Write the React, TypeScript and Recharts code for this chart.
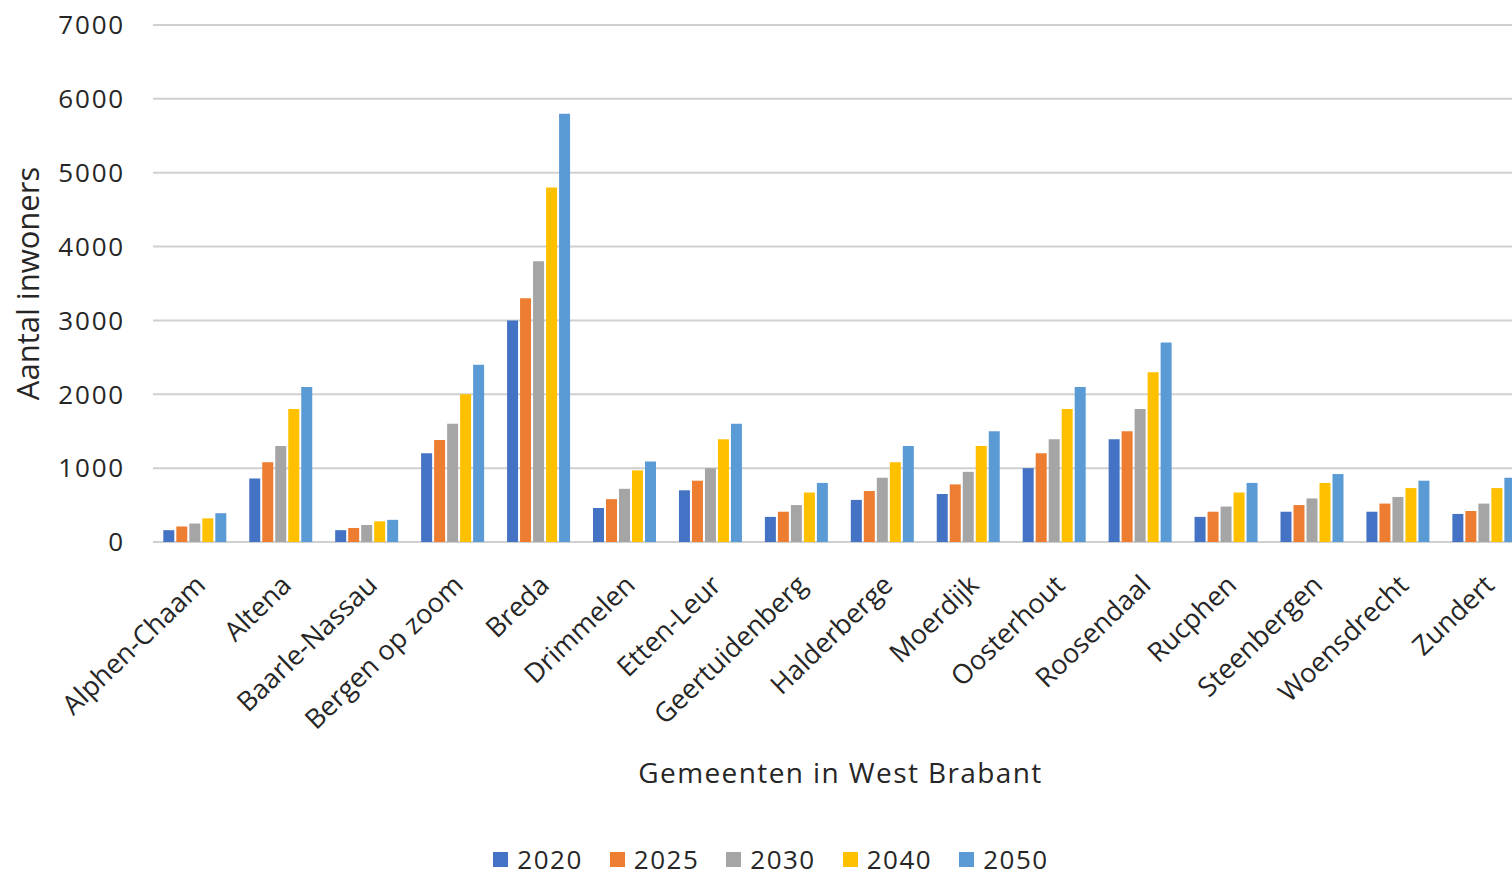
import { BarChart, Bar, XAxis, YAxis, CartesianGrid, Legend } from 'recharts';

const gemeenten = [
  'Alphen-Chaam', 'Altena', 'Baarle-Nassau', 'Bergen op zoom', 'Breda', 'Drimmelen',
  'Etten-Leur', 'Geertuidenberg', 'Halderberge', 'Moerdijk', 'Oosterhout', 'Roosendaal',
  'Rucphen', 'Steenbergen', 'Woensdrecht', 'Zundert',
];

const v2020 = [160, 860, 160, 1200, 3000, 460, 700, 340, 570, 650, 1000, 1390, 340, 410, 410, 380];
const v2025 = [210, 1080, 190, 1380, 3300, 580, 830, 410, 690, 780, 1200, 1500, 410, 500, 520, 420];
const v2030 = [250, 1300, 230, 1600, 3800, 720, 1000, 500, 870, 950, 1390, 1800, 480, 590, 610, 520];
const v2040 = [320, 1800, 280, 2000, 4800, 970, 1390, 670, 1080, 1300, 1800, 2300, 670, 800, 730, 730];
const v2050 = [390, 2100, 300, 2400, 5800, 1090, 1600, 800, 1300, 1500, 2100, 2700, 800, 920, 830, 870];

const yTicks = [0, 1000, 2000, 3000, 4000, 5000, 6000, 7000];

const series = [
  { key: '2020', color: '#4472C4' },
  { key: '2025', color: '#ED7D31' },
  { key: '2030', color: '#A5A5A5' },
  { key: '2040', color: '#FFC000' },
  { key: '2050', color: '#5B9BD5' },
];

const data = gemeenten.map((name, i) => ({
  name,
  '2020': v2020[i],
  '2025': v2025[i],
  '2030': v2030[i],
  '2040': v2040[i],
  '2050': v2050[i],
}));

const FONT = '"Open Sans", sans-serif';

function XTick({ x, y, payload }: any) {
  return (
    <g transform={`translate(${x + 11},${y + 43})`}>
      <text textAnchor="end" transform="rotate(-44)" fontSize={27} fontFamily={FONT} fill="#262626">
        {payload.value}
      </text>
    </g>
  );
}

function LegendContent({ payload }: any) {
  return (
    <div style={{ height: 42, paddingTop: 8, paddingLeft: 14, boxSizing: 'border-box', display: 'flex', justifyContent: 'center', gap: 27, fontFamily: FONT, fontSize: 26, letterSpacing: 1.5, color: '#262626', lineHeight: '28px' }}>
      {(payload || []).map((entry: any) => (
        <span key={entry.value} style={{ display: 'flex', alignItems: 'center', height: 28 }}>
          <span style={{ width: 15, height: 15, background: entry.color, marginRight: 9, display: 'inline-block' }} />
          {entry.value}
        </span>
      ))}
    </div>
  );
}

export default function App() {
  return (
    <div style={{ position: 'absolute', left: 0, top: 0, width: 1512, height: 879, overflow: 'hidden', background: '#fff' }}>
      <BarChart
        width={1540}
        height={879}
        data={data}
        margin={{ top: 25, right: 12, bottom: 0, left: 0 }}
        barCategoryGap="12%"
        barGap={2}
      >
        <CartesianGrid vertical={false} stroke="#d0d0d0" strokeWidth={2} />
        <XAxis
          dataKey="name"
          height={295}
          axisLine={false}
          tickLine={false}
          tickSize={0}
          interval={0}
          tick={<XTick />}
          label={{ value: 'Gemeenten in West Brabant', position: 'insideBottom', offset: 54, fontSize: 28, fontFamily: FONT, fill: '#262626', letterSpacing: 1.4 }}
        />
        <YAxis
          width={153}
          domain={[0, 7000]}
          ticks={yTicks}
          axisLine={false}
          tickLine={false}
          tickSize={0}
          tickMargin={28}
          tick={{ fontSize: 26, fontFamily: FONT, fill: '#262626', letterSpacing: 1.8 }}
          label={{ value: 'Aantal inwoners', angle: -90, position: 'insideLeft', offset: 28, fontSize: 31, fontFamily: FONT, fill: '#262626', style: { textAnchor: 'middle' } }}
        />
        <Legend verticalAlign="bottom" align="center" content={<LegendContent />} />
        {series.map((s) => (
          <Bar key={s.key} dataKey={s.key} name={s.key} fill={s.color} isAnimationActive={false} />
        ))}
      </BarChart>
    </div>
  );
}
